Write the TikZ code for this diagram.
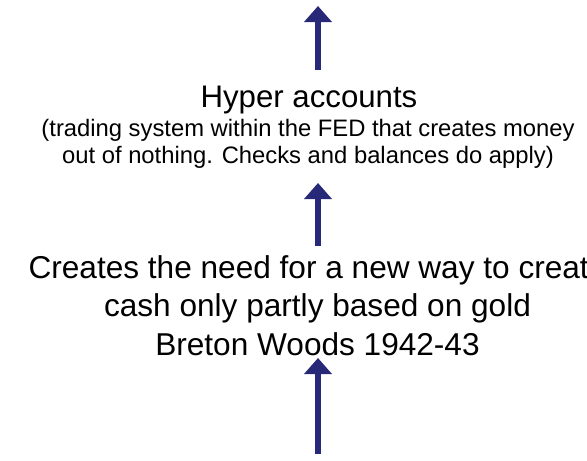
\documentclass[tikz,border=0pt]{standalone}
\usepackage{fontspec}
\setmainfont{Liberation Sans}
\usetikzlibrary{arrows.meta}
\definecolor{navy}{RGB}{40,40,120}
\tikzset{
  arr/.style={draw=navy, line width=6.2pt, -{Triangle[width=27pt,length=16pt]}},
  bigtext/.style={inner sep=0pt, align=center, font=\fontsize{31.6}{38.5}\selectfont},
  titletext/.style={inner sep=0pt, align=center, font=\fontsize{31.2}{37}\selectfont},
  subtext/.style={inner sep=0pt, align=center, font=\fontsize{23.8}{27.3}\selectfont},
}
\begin{document}
\begin{tikzpicture}[x=1pt,y=-1pt]
\useasboundingbox (0,0) rectangle (587,461);
\fill[white] (0,0) rectangle (587,461);
\clip (0,0) rectangle (587,461);
\node[titletext, anchor=base] (hyper) at (309,107) {Hyper accounts};
\node[subtext, anchor=base] (sub) at (308,163.5) {(trading system within the FED that creates money\\out of nothing. Checks and balances do apply)};
\node[bigtext, anchor=base] (creates) at (317.5,355) {Creates the need for a new way to create\\cash only partly based on gold\\Breton Woods 1942-43};
\coordinate (top) at (318,6);
\coordinate (a1s) at (318,70);
\coordinate (a2e) at (318,183);
\coordinate (a2s) at (318,246);
\coordinate (a3e) at (318,358);
\coordinate (bottom) at (318,454);
\draw[arr] (a1s) -- (top);
\draw[arr] (a2s) -- (a2e);
\draw[arr] (bottom) -- (a3e);
\end{tikzpicture}
\end{document}
